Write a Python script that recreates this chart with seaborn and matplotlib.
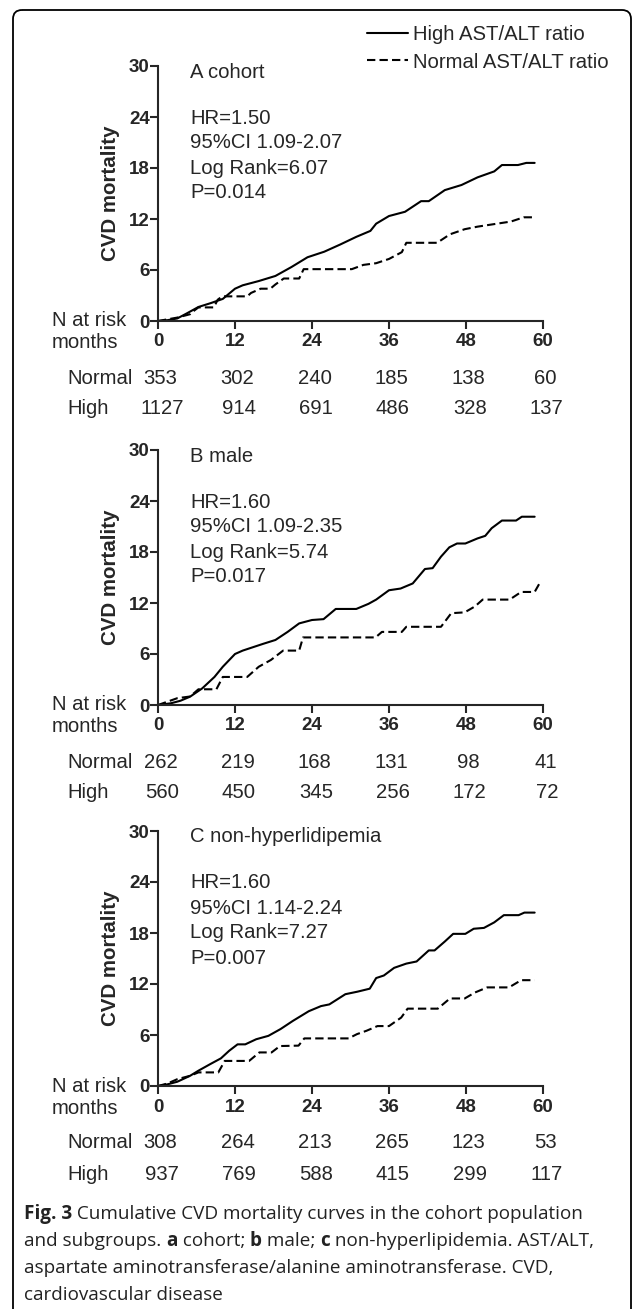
import matplotlib
matplotlib.use("Agg")
import matplotlib.pyplot as plt
import matplotlib.transforms as mtransforms
from matplotlib.patches import FancyBboxPatch
from matplotlib.lines import Line2D
import pandas as pd
import seaborn as sns

# ---- data (months, cumulative CVD mortality) ----
a_high_t = [0, 1.5, 3, 4.5, 6.3, 8.2, 10.1, 12, 13.2, 15.7, 18.3, 20.8, 23.3, 25.9, 28.4, 30.9,
            33.1, 34, 36, 38.5, 41, 42.2, 44.7, 47.3, 49.8, 52.4, 53.6, 56.1, 57.4, 58.7]
a_high_v = [0, 0.1, 0.3, 0.9, 1.65, 2.1, 2.6, 3.8, 4.2, 4.7, 5.3, 6.35, 7.5, 8.15, 9.0, 9.9,
            10.6, 11.45, 12.35, 12.85, 14.1, 14.1, 15.4, 16.0, 16.9, 17.6, 18.35, 18.35, 18.6, 18.6]
a_norm_t = [0, 1.5, 3, 5, 5.6, 6.3, 8.7, 9.3, 10, 13.9, 14.5, 16, 17.5, 18.3, 19.6, 22, 22.7,
            30.2, 32, 34, 36, 38, 38.7, 43.5, 45.5, 47.8, 49.8, 52.4, 55, 57, 58.7]
a_norm_v = [0, 0.2, 0.4, 0.8, 1.2, 1.6, 1.6, 2.5, 2.9, 2.9, 3.3, 3.8, 3.8, 4.3, 5.0, 5.0, 6.1,
            6.1, 6.6, 6.8, 7.3, 8.1, 9.2, 9.2, 10.2, 10.8, 11.1, 11.4, 11.7, 12.2, 12.2]

b_high_t = [0, 2, 3.5, 5, 6.9, 8.8, 10.1, 12, 13.2, 16.4, 18.3, 20.2, 22, 24, 25.8, 27.7, 30.9,
            32.8, 34, 36, 37.8, 39.7, 41.6, 42.8, 44.1, 45.4, 46.6, 47.9, 49.8, 51, 52, 53.6,
            55.8, 56.7, 58.7]
b_high_v = [0, 0.2, 0.5, 0.98, 1.96, 3.3, 4.5, 6.0, 6.4, 7.2, 7.65, 8.6, 9.6, 10.0, 10.1, 11.3,
            11.3, 11.9, 12.4, 13.5, 13.7, 14.3, 16.0, 16.1, 17.45, 18.55, 19.0, 19.0, 19.6, 19.9,
            20.8, 21.7, 21.7, 22.15, 22.15]
b_norm_t = [0, 1.5, 3, 5, 6.3, 9.1, 10.1, 13.9, 15.7, 17.6, 19.5, 22, 22.6, 33.9, 34.9, 38,
            38.7, 44.1, 45.7, 47.8, 49.4, 50.6, 54.8, 56.6, 58.7, 59.6]
b_norm_v = [0, 0.4, 0.8, 1.0, 1.85, 1.85, 3.3, 3.3, 4.5, 5.3, 6.4, 6.4, 7.95, 7.95, 8.6, 8.6,
            9.2, 9.2, 10.8, 10.9, 11.6, 12.4, 12.4, 13.3, 13.3, 14.5]

c_high_t = [0, 1.5, 3, 5, 6.3, 8.2, 9.8, 11.1, 12.4, 13.6, 15.3, 17.2, 19.1, 21, 23.5, 25.4,
            26.7, 29.2, 31.1, 33, 34, 35.2, 36.8, 38.7, 40.3, 42.2, 43.1, 44.7, 46, 47.9, 49.2,
            50.8, 52.4, 53.9, 56.2, 57.1, 58.7]
c_high_v = [0, 0.2, 0.5, 1.2, 1.8, 2.6, 3.25, 4.15, 4.9, 4.9, 5.5, 5.9, 6.7, 7.65, 8.8, 9.4,
            9.6, 10.8, 11.1, 11.45, 12.7, 13.0, 13.9, 14.4, 14.65, 15.95, 15.95, 17.0, 17.9,
            17.9, 18.5, 18.6, 19.25, 20.1, 20.1, 20.4, 20.4]
c_norm_t = [0, 1.5, 3, 5, 6.3, 9.4, 10.4, 14.2, 15.8, 17.7, 19, 21.9, 22.8, 29.7, 31, 32.5,
            34.2, 36, 37.9, 38.9, 43.6, 45.5, 47.8, 49.4, 51.3, 54.7, 56.6, 58.7]
c_norm_v = [0, 0.3, 0.8, 1.2, 1.6, 1.6, 2.95, 2.95, 3.95, 3.95, 4.7, 4.75, 5.6, 5.6, 6.1, 6.5,
            7.05, 7.05, 8.05, 9.1, 9.1, 10.3, 10.3, 11.0, 11.6, 11.6, 12.45, 12.45]

# number at risk
months = [0, 12, 24, 36, 48, 60]
a_n_normal = [353, 302, 240, 185, 138, 60]
a_n_high = [1127, 914, 691, 486, 328, 137]
b_n_normal = [262, 219, 168, 131, 98, 41]
b_n_high = [560, 450, 345, 256, 172, 72]
c_n_normal = [308, 264, 213, 265, 123, 53]
c_n_high = [937, 769, 588, 415, 299, 117]

titles = ["A cohort", "B male", "C non-hyperlidipemia"]
a_stats = ["HR=1.50", "95%CI 1.09-2.07", "Log Rank=6.07", "P=0.014"]
b_stats = ["HR=1.60", "95%CI 1.09-2.35", "Log Rank=5.74", "P=0.017"]
c_stats = ["HR=1.60", "95%CI 1.14-2.24", "Log Rank=7.27", "P=0.007"]

sns.set_style("ticks")
plt.rcParams["font.family"] = ["Liberation Sans", "DejaVu Sans"]

W, H = 634, 1309
fig = plt.figure(figsize=(W / 100, H / 100), dpi=100)

# full-figure pixel axes for the frame, legend and free text
frame = fig.add_axes([0, 0, 1, 1], zorder=0)
frame.set_xlim(0, W)
frame.set_ylim(H, 0)
frame.axis("off")
frame.add_patch(FancyBboxPatch((13, 10), 618, 1400, boxstyle="round,pad=0,rounding_size=9",
                               fc="none", ec="black", lw=1.3))

panels = [
    (titles[0], a_stats, a_high_t, a_high_v, a_norm_t, a_norm_v, a_n_normal, a_n_high, 66),
    (titles[1], b_stats, b_high_t, b_high_v, b_norm_t, b_norm_v, b_n_normal, b_n_high, 450),
    (titles[2], c_stats, c_high_t, c_high_v, c_norm_t, c_norm_v, c_n_normal, c_n_high, 831),
]

ax_left, ax_w, ax_h = 158, 385, 255
fs = 14.6

for title, stats, ht, hv, nt, nv, n_norm, n_high, top in panels:
    ax = fig.add_axes([ax_left / W, 1 - (top + ax_h) / H, ax_w / W, ax_h / H], zorder=2)
    ax.patch.set_alpha(0)
    df = pd.concat([
        pd.DataFrame({"month": ht, "mortality": hv, "group": "High"}),
        pd.DataFrame({"month": nt, "mortality": nv, "group": "Normal"}),
    ])
    sns.lineplot(data=df, x="month", y="mortality", style="group", style_order=["High", "Normal"],
                 dashes={"High": "", "Normal": (4, 2)}, color="black", lw=1.5,
                 estimator=None, sort=False, legend=False, ax=ax)
    ax.set_xlim(0, 60)
    ax.set_ylim(0, 30)
    ax.set_xticks(months)
    ax.set_yticks(range(0, 31, 6))
    ax.set_xlabel("")
    ax.set_ylabel("CVD mortality", fontsize=14.8, fontweight="bold")
    ax.yaxis.label.set(rotation_mode="default", va="center", ha="center")
    ax.yaxis.set_label_coords((110 - ax_left) / ax_w, 0.5)
    sns.despine(ax=ax)
    for s in ["left", "bottom"]:
        ax.spines[s].set_linewidth(1.5)
    ax.tick_params(width=1.5, length=5.5, labelsize=13.5)
    ax.tick_params(axis="y", pad=0.5)
    ax.tick_params(axis="x", pad=3.5)
    for lbl in ax.get_xticklabels() + ax.get_yticklabels():
        lbl.set_fontweight("bold")

    frame.text(190, top + 6, title, fontsize=fs, va="center")
    for i, s in enumerate(stats):
        frame.text(190, top + 52 + 25 * i, s, fontsize=fs, va="center")

    base = top + ax_h
    frame.text(52, base, "N at risk", fontsize=fs, va="center")
    frame.text(52, base + 22, "months", fontsize=fs, va="center")
    frame.text(67, base + 57, "Normal", fontsize=fs, va="center")
    frame.text(67, base + 88, "High", fontsize=fs, va="center")
    tr = mtransforms.blended_transform_factory(ax.transData, frame.transData)
    for m, nn, nh in zip(months, n_norm, n_high):
        frame.text(m + 0.4, base + 57, str(nn), fontsize=fs, ha="center", va="center", transform=tr)
        frame.text(m + 0.6, base + 88, str(nh), fontsize=fs, ha="center", va="center", transform=tr)

handles = [Line2D([], [], color="black", lw=1.5),
           Line2D([], [], color="black", lw=1.5, dashes=(4, 2))]
frame.legend(handles, ["High AST/ALT ratio", "Normal AST/ALT ratio"], loc="upper left",
             bbox_to_anchor=(367, 25), bbox_transform=frame.transData, frameon=False,
             borderpad=0, borderaxespad=0, handlelength=2.0, handletextpad=0.25,
             labelspacing=0.42, fontsize=fs)

# caption with inline bold runs
caption = [
    [("Fig. 3", "bold"), (" Cumulative CVD mortality curves in the cohort population", "normal")],
    [("and subgroups. ", "normal"), ("a", "bold"), (" cohort; ", "normal"), ("b", "bold"),
     (" male; ", "normal"), ("c", "bold"), (" non-hyperlipidemia. AST/ALT,", "normal")],
    [("aspartate aminotransferase/alanine aminotransferase. CVD,", "normal")],
    [("cardiovascular disease", "normal")],
]
renderer = fig.canvas.get_renderer()
for k, runs in enumerate(caption):
    x = 24
    for txt, wt in runs:
        t = frame.text(x, 1219 + 27 * k, txt, fontsize=13.6, fontweight=wt,
                       family=["Open Sans", "DejaVu Sans"], color="#222222", va="baseline")
        x += t.get_window_extent(renderer).width

fig.savefig("out.png", dpi=100)
